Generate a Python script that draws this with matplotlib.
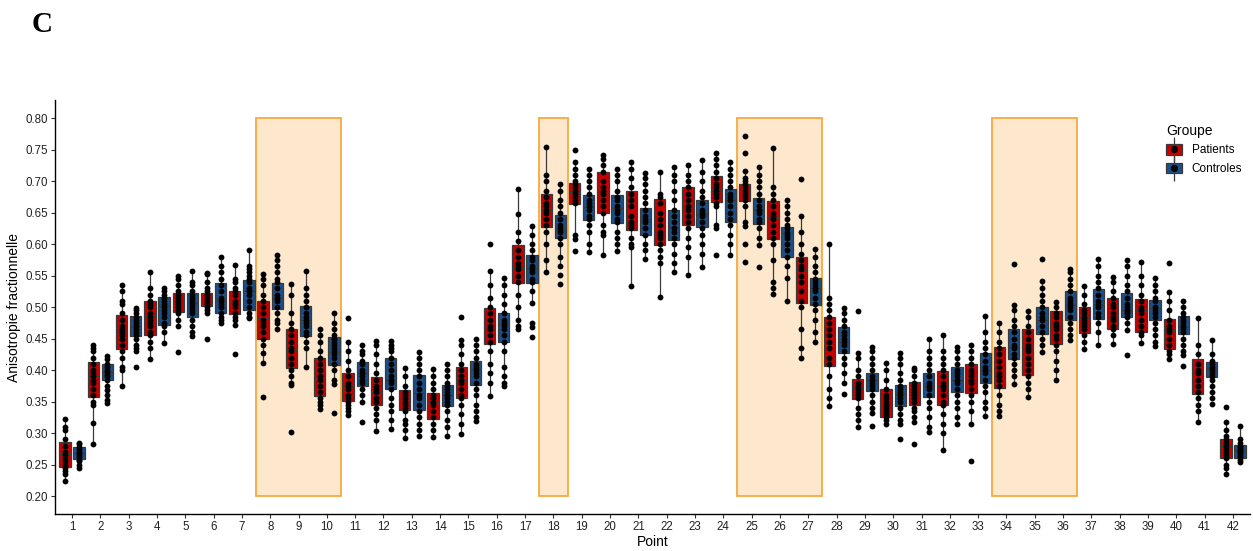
import matplotlib
matplotlib.use("Agg")
import matplotlib.pyplot as plt
from matplotlib.patches import Patch, Rectangle
from matplotlib.lines import Line2D
from matplotlib.legend_handler import HandlerTuple

plt.rcParams['font.family'] = ['Liberation Sans', 'DejaVu Sans']

# --- data --------------------------------------------------------------
points = list(range(1, 43))
groups = ['Patients', 'Controles']

# box quartiles (q1, median, q3) per point
pat_q1 = [0.246, 0.358, 0.433, 0.456, 0.493, 0.501, 0.489, 0.449, 0.403, 0.359,
          0.351, 0.345, 0.336, 0.322, 0.356, 0.441, 0.539, 0.627, 0.664, 0.649,
          0.622, 0.598, 0.630, 0.667, 0.669, 0.608, 0.506, 0.407, 0.354, 0.325,
          0.345, 0.344, 0.363, 0.371, 0.393, 0.441, 0.459, 0.466, 0.461, 0.433,
          0.362, 0.261]
pat_med = [0.266, 0.391, 0.462, 0.486, 0.507, 0.507, 0.507, 0.483, 0.432, 0.389,
           0.374, 0.366, 0.354, 0.350, 0.384, 0.466, 0.562, 0.655, 0.683, 0.682,
           0.634, 0.617, 0.659, 0.686, 0.687, 0.641, 0.559, 0.456, 0.372, 0.342,
           0.363, 0.375, 0.383, 0.392, 0.433, 0.472, 0.482, 0.485, 0.496, 0.463,
           0.398, 0.279]
pat_q3 = [0.286, 0.413, 0.488, 0.510, 0.523, 0.522, 0.526, 0.509, 0.465, 0.419,
          0.396, 0.389, 0.369, 0.364, 0.405, 0.499, 0.599, 0.679, 0.697, 0.714,
          0.685, 0.672, 0.691, 0.708, 0.695, 0.669, 0.580, 0.485, 0.386, 0.370,
          0.381, 0.398, 0.410, 0.436, 0.465, 0.494, 0.500, 0.514, 0.513, 0.481,
          0.417, 0.291]

ctl_q1 = [0.259, 0.384, 0.454, 0.472, 0.484, 0.490, 0.496, 0.497, 0.454, 0.408,
          0.375, 0.370, 0.336, 0.343, 0.376, 0.444, 0.539, 0.609, 0.638, 0.633,
          0.614, 0.606, 0.627, 0.635, 0.632, 0.580, 0.503, 0.427, 0.367, 0.343,
          0.358, 0.366, 0.379, 0.417, 0.458, 0.480, 0.481, 0.485, 0.479, 0.458,
          0.389, 0.260]
ctl_med = [0.269, 0.397, 0.470, 0.501, 0.507, 0.511, 0.525, 0.514, 0.479, 0.429,
           0.396, 0.384, 0.363, 0.360, 0.401, 0.473, 0.562, 0.623, 0.659, 0.657,
           0.636, 0.627, 0.648, 0.670, 0.655, 0.617, 0.531, 0.445, 0.384, 0.362,
           0.375, 0.385, 0.400, 0.437, 0.480, 0.503, 0.503, 0.496, 0.498, 0.469,
           0.403, 0.273]
ctl_q3 = [0.278, 0.409, 0.486, 0.516, 0.522, 0.538, 0.543, 0.539, 0.501, 0.452,
          0.413, 0.419, 0.392, 0.376, 0.414, 0.491, 0.582, 0.646, 0.678, 0.678,
          0.657, 0.654, 0.670, 0.687, 0.674, 0.628, 0.547, 0.468, 0.395, 0.376,
          0.396, 0.405, 0.427, 0.466, 0.500, 0.525, 0.529, 0.522, 0.512, 0.486,
          0.413, 0.281]

# individual subjects per point
pat_pts = [
    [0.322, 0.31, 0.305, 0.29, 0.28, 0.27, 0.265, 0.26, 0.255, 0.25, 0.245, 0.24, 0.235, 0.224],
    [0.44, 0.435, 0.43, 0.42, 0.41, 0.40, 0.395, 0.39, 0.385, 0.38, 0.37, 0.36, 0.35, 0.345, 0.316, 0.283],
    [0.535, 0.525, 0.51, 0.505, 0.49, 0.48, 0.47, 0.465, 0.46, 0.455, 0.45, 0.44, 0.43, 0.42, 0.405, 0.40, 0.375],
    [0.555, 0.53, 0.52, 0.51, 0.505, 0.50, 0.49, 0.485, 0.48, 0.475, 0.47, 0.46, 0.455, 0.445, 0.435, 0.417],
    [0.550, 0.545, 0.535, 0.525, 0.52, 0.515, 0.51, 0.505, 0.50, 0.495, 0.49, 0.48, 0.47, 0.428],
    [0.554, 0.552, 0.54, 0.53, 0.525, 0.52, 0.515, 0.51, 0.505, 0.50, 0.495, 0.49, 0.449],
    [0.567, 0.545, 0.54, 0.53, 0.525, 0.52, 0.51, 0.505, 0.50, 0.49, 0.485, 0.48, 0.472, 0.425],
    [0.552, 0.545, 0.535, 0.52, 0.51, 0.50, 0.49, 0.48, 0.475, 0.47, 0.46, 0.45, 0.44, 0.427, 0.411, 0.357],
    [0.537, 0.52, 0.49, 0.475, 0.465, 0.455, 0.445, 0.435, 0.43, 0.42, 0.41, 0.40, 0.39, 0.38, 0.376, 0.302],
    [0.465, 0.455, 0.445, 0.43, 0.42, 0.41, 0.40, 0.39, 0.385, 0.375, 0.365, 0.355, 0.35, 0.345, 0.338],
    [0.482, 0.445, 0.43, 0.415, 0.40, 0.39, 0.38, 0.375, 0.37, 0.36, 0.355, 0.35, 0.345, 0.34, 0.335, 0.329],
    [0.447, 0.44, 0.425, 0.41, 0.395, 0.385, 0.375, 0.37, 0.365, 0.355, 0.35, 0.34, 0.33, 0.32, 0.304],
    [0.404, 0.39, 0.375, 0.365, 0.36, 0.355, 0.35, 0.345, 0.34, 0.335, 0.32, 0.315, 0.305, 0.292],
    [0.401, 0.39, 0.38, 0.37, 0.36, 0.355, 0.35, 0.345, 0.335, 0.325, 0.315, 0.305, 0.294],
    [0.484, 0.448, 0.44, 0.425, 0.41, 0.40, 0.39, 0.385, 0.38, 0.37, 0.36, 0.355, 0.345, 0.33, 0.315, 0.299],
    [0.601, 0.557, 0.535, 0.515, 0.50, 0.49, 0.48, 0.47, 0.465, 0.455, 0.445, 0.43, 0.41, 0.395, 0.38, 0.359],
    [0.688, 0.648, 0.62, 0.605, 0.59, 0.58, 0.57, 0.565, 0.56, 0.55, 0.54, 0.52, 0.50, 0.48, 0.47, 0.465],
    [0.755, 0.71, 0.70, 0.685, 0.675, 0.665, 0.66, 0.655, 0.65, 0.64, 0.63, 0.62, 0.60, 0.575, 0.556],
    [0.749, 0.73, 0.72, 0.71, 0.70, 0.695, 0.69, 0.685, 0.68, 0.675, 0.67, 0.665, 0.615, 0.608, 0.589],
    [0.742, 0.735, 0.725, 0.715, 0.70, 0.69, 0.685, 0.68, 0.67, 0.66, 0.65, 0.63, 0.62, 0.615, 0.582],
    [0.730, 0.72, 0.705, 0.69, 0.68, 0.67, 0.66, 0.645, 0.635, 0.63, 0.625, 0.61, 0.60, 0.595, 0.534],
    [0.715, 0.68, 0.675, 0.665, 0.65, 0.64, 0.63, 0.62, 0.615, 0.61, 0.60, 0.59, 0.58, 0.57, 0.516],
    [0.726, 0.71, 0.70, 0.69, 0.68, 0.67, 0.66, 0.655, 0.645, 0.635, 0.625, 0.61, 0.595, 0.58, 0.551],
    [0.745, 0.735, 0.725, 0.715, 0.705, 0.695, 0.69, 0.685, 0.68, 0.675, 0.665, 0.66, 0.63, 0.625, 0.583],
    [0.771, 0.744, 0.716, 0.705, 0.70, 0.695, 0.69, 0.685, 0.68, 0.675, 0.67, 0.66, 0.635, 0.629, 0.601, 0.572],
    [0.753, 0.69, 0.68, 0.67, 0.66, 0.65, 0.645, 0.64, 0.63, 0.62, 0.61, 0.60, 0.575, 0.54, 0.53, 0.521],
    [0.704, 0.645, 0.62, 0.60, 0.585, 0.575, 0.565, 0.56, 0.55, 0.54, 0.525, 0.51, 0.50, 0.465, 0.435, 0.42],
    [0.600, 0.515, 0.505, 0.495, 0.485, 0.475, 0.465, 0.455, 0.445, 0.435, 0.42, 0.41, 0.39, 0.37, 0.355, 0.343],
    [0.494, 0.427, 0.42, 0.40, 0.39, 0.38, 0.375, 0.37, 0.365, 0.36, 0.355, 0.34, 0.33, 0.32, 0.309],
    [0.411, 0.40, 0.385, 0.37, 0.36, 0.355, 0.35, 0.345, 0.34, 0.335, 0.33, 0.325, 0.32, 0.314],
    [0.404, 0.40, 0.39, 0.38, 0.375, 0.37, 0.365, 0.36, 0.355, 0.35, 0.34, 0.335, 0.325, 0.318, 0.283],
    [0.456, 0.43, 0.42, 0.41, 0.40, 0.39, 0.38, 0.375, 0.37, 0.36, 0.35, 0.345, 0.33, 0.315, 0.30, 0.273],
    [0.440, 0.43, 0.42, 0.41, 0.40, 0.395, 0.39, 0.385, 0.38, 0.37, 0.36, 0.35, 0.335, 0.315, 0.256],
    [0.474, 0.46, 0.445, 0.435, 0.425, 0.415, 0.405, 0.395, 0.39, 0.385, 0.375, 0.36, 0.345, 0.335, 0.327],
    [0.494, 0.485, 0.47, 0.46, 0.45, 0.44, 0.435, 0.43, 0.42, 0.41, 0.40, 0.39, 0.38, 0.37, 0.357],
    [0.508, 0.50, 0.49, 0.485, 0.475, 0.47, 0.465, 0.455, 0.45, 0.44, 0.43, 0.415, 0.40, 0.384],
    [0.533, 0.52, 0.505, 0.495, 0.49, 0.485, 0.48, 0.475, 0.47, 0.465, 0.455, 0.445, 0.433],
    [0.548, 0.54, 0.525, 0.515, 0.505, 0.50, 0.49, 0.485, 0.48, 0.47, 0.465, 0.455, 0.442],
    [0.571, 0.55, 0.535, 0.52, 0.51, 0.50, 0.495, 0.49, 0.48, 0.47, 0.46, 0.455, 0.443],
    [0.570, 0.524, 0.51, 0.495, 0.48, 0.47, 0.465, 0.46, 0.45, 0.44, 0.43, 0.425, 0.417],
    [0.482, 0.44, 0.425, 0.41, 0.40, 0.395, 0.385, 0.375, 0.365, 0.355, 0.345, 0.335, 0.318],
    [0.342, 0.318, 0.305, 0.295, 0.29, 0.285, 0.28, 0.275, 0.27, 0.265, 0.26, 0.25, 0.245, 0.235],
]

ctl_pts = [
    [0.285, 0.282, 0.278, 0.275, 0.27, 0.268, 0.265, 0.262, 0.258, 0.255, 0.25, 0.245],
    [0.423, 0.418, 0.41, 0.405, 0.40, 0.397, 0.393, 0.39, 0.385, 0.375, 0.368, 0.36, 0.352, 0.348],
    [0.499, 0.495, 0.49, 0.485, 0.48, 0.475, 0.47, 0.465, 0.46, 0.455, 0.45, 0.44, 0.435, 0.43, 0.405],
    [0.531, 0.525, 0.52, 0.515, 0.51, 0.505, 0.50, 0.495, 0.49, 0.485, 0.475, 0.47, 0.46, 0.443],
    [0.557, 0.54, 0.535, 0.525, 0.52, 0.515, 0.51, 0.505, 0.50, 0.495, 0.49, 0.48, 0.47, 0.46, 0.454],
    [0.58, 0.565, 0.555, 0.545, 0.535, 0.525, 0.515, 0.51, 0.505, 0.50, 0.49, 0.485, 0.48, 0.475],
    [0.59, 0.565, 0.56, 0.555, 0.55, 0.545, 0.54, 0.53, 0.525, 0.52, 0.51, 0.50, 0.49, 0.485, 0.482],
    [0.582, 0.575, 0.565, 0.555, 0.545, 0.54, 0.53, 0.52, 0.515, 0.51, 0.50, 0.49, 0.48, 0.475, 0.466],
    [0.557, 0.53, 0.52, 0.51, 0.50, 0.49, 0.485, 0.48, 0.475, 0.47, 0.46, 0.455, 0.445, 0.435, 0.405],
    [0.490, 0.475, 0.465, 0.455, 0.45, 0.445, 0.44, 0.435, 0.43, 0.425, 0.42, 0.41, 0.40, 0.385, 0.378, 0.332],
    [0.440, 0.43, 0.425, 0.415, 0.41, 0.40, 0.395, 0.39, 0.385, 0.38, 0.37, 0.36, 0.35, 0.317],
    [0.447, 0.44, 0.435, 0.43, 0.42, 0.41, 0.40, 0.39, 0.385, 0.38, 0.37, 0.355, 0.345, 0.335, 0.32, 0.306],
    [0.429, 0.42, 0.41, 0.40, 0.39, 0.38, 0.37, 0.36, 0.355, 0.345, 0.335, 0.325, 0.315, 0.305, 0.296],
    [0.410, 0.40, 0.39, 0.38, 0.375, 0.37, 0.365, 0.36, 0.355, 0.35, 0.345, 0.335, 0.32, 0.31, 0.295],
    [0.450, 0.44, 0.43, 0.42, 0.41, 0.405, 0.40, 0.395, 0.39, 0.38, 0.37, 0.36, 0.345, 0.335, 0.325, 0.319],
    [0.546, 0.535, 0.52, 0.505, 0.49, 0.48, 0.475, 0.47, 0.465, 0.455, 0.445, 0.43, 0.405, 0.39, 0.38, 0.374],
    [0.629, 0.615, 0.60, 0.59, 0.58, 0.575, 0.565, 0.56, 0.555, 0.545, 0.54, 0.525, 0.506, 0.474, 0.468, 0.453],
    [0.696, 0.685, 0.67, 0.66, 0.65, 0.64, 0.63, 0.625, 0.62, 0.61, 0.60, 0.58, 0.565, 0.551, 0.536],
    [0.719, 0.71, 0.70, 0.69, 0.68, 0.67, 0.665, 0.66, 0.655, 0.645, 0.64, 0.63, 0.62, 0.60, 0.587],
    [0.719, 0.71, 0.70, 0.685, 0.675, 0.67, 0.66, 0.655, 0.65, 0.64, 0.635, 0.62, 0.61, 0.60, 0.589],
    [0.713, 0.705, 0.695, 0.685, 0.675, 0.665, 0.655, 0.645, 0.64, 0.635, 0.625, 0.615, 0.60, 0.59, 0.576],
    [0.723, 0.71, 0.70, 0.685, 0.67, 0.655, 0.645, 0.635, 0.625, 0.62, 0.61, 0.60, 0.585, 0.57, 0.555],
    [0.733, 0.715, 0.70, 0.685, 0.675, 0.665, 0.655, 0.65, 0.645, 0.635, 0.625, 0.615, 0.60, 0.585, 0.564],
    [0.730, 0.72, 0.71, 0.70, 0.69, 0.68, 0.675, 0.67, 0.66, 0.65, 0.64, 0.63, 0.615, 0.60, 0.583],
    [0.723, 0.71, 0.70, 0.69, 0.68, 0.67, 0.66, 0.655, 0.65, 0.64, 0.635, 0.625, 0.61, 0.599, 0.564],
    [0.670, 0.66, 0.65, 0.64, 0.63, 0.625, 0.62, 0.615, 0.61, 0.60, 0.59, 0.58, 0.565, 0.546, 0.510],
    [0.593, 0.58, 0.565, 0.555, 0.545, 0.54, 0.535, 0.53, 0.525, 0.515, 0.505, 0.495, 0.48, 0.46, 0.445],
    [0.498, 0.49, 0.48, 0.47, 0.46, 0.455, 0.45, 0.445, 0.44, 0.43, 0.42, 0.41, 0.395, 0.38, 0.362],
    [0.436, 0.43, 0.42, 0.41, 0.40, 0.39, 0.385, 0.38, 0.375, 0.37, 0.36, 0.35, 0.34, 0.332, 0.312],
    [0.427, 0.42, 0.41, 0.395, 0.385, 0.375, 0.37, 0.365, 0.36, 0.355, 0.35, 0.34, 0.33, 0.32, 0.315, 0.291],
    [0.449, 0.43, 0.42, 0.41, 0.40, 0.39, 0.38, 0.375, 0.37, 0.36, 0.35, 0.34, 0.325, 0.31, 0.301],
    [0.436, 0.43, 0.42, 0.41, 0.40, 0.395, 0.39, 0.385, 0.38, 0.37, 0.36, 0.35, 0.34, 0.325, 0.314],
    [0.486, 0.46, 0.445, 0.435, 0.425, 0.415, 0.405, 0.40, 0.395, 0.385, 0.375, 0.365, 0.35, 0.34, 0.327],
    [0.569, 0.503, 0.495, 0.48, 0.47, 0.46, 0.45, 0.44, 0.435, 0.425, 0.42, 0.41, 0.40, 0.39, 0.378],
    [0.577, 0.541, 0.53, 0.52, 0.51, 0.50, 0.49, 0.485, 0.48, 0.47, 0.46, 0.45, 0.44, 0.428],
    [0.561, 0.555, 0.545, 0.535, 0.525, 0.515, 0.51, 0.505, 0.50, 0.495, 0.485, 0.475, 0.465, 0.455, 0.448],
    [0.576, 0.565, 0.55, 0.54, 0.53, 0.52, 0.51, 0.505, 0.50, 0.49, 0.485, 0.475, 0.46, 0.44],
    [0.575, 0.565, 0.55, 0.535, 0.525, 0.515, 0.505, 0.50, 0.495, 0.49, 0.485, 0.475, 0.463, 0.424],
    [0.546, 0.535, 0.525, 0.515, 0.51, 0.50, 0.495, 0.49, 0.485, 0.475, 0.465, 0.455, 0.445, 0.438],
    [0.509, 0.50, 0.49, 0.485, 0.48, 0.475, 0.47, 0.465, 0.46, 0.45, 0.44, 0.43, 0.424, 0.407],
    [0.448, 0.425, 0.415, 0.41, 0.405, 0.40, 0.395, 0.39, 0.385, 0.375, 0.365, 0.355, 0.346],
    [0.311, 0.29, 0.285, 0.28, 0.278, 0.275, 0.272, 0.27, 0.268, 0.265, 0.262, 0.258, 0.254],
]

# highlighted ranges of points (first, last)
zones = [(8, 10), (18, 18), (25, 27), (34, 36)]
zone_ymin, zone_ymax = 0.20, 0.80

colors = {'Patients': '#C70000', 'Controles': '#1B4F8A'}
edge = '#3a3a3a'


def box_stats(q1, med, q3, pts):
    iqr = q3 - q1
    inside_hi = [p for p in pts if q3 <= p <= q3 + 1.5 * iqr]
    inside_lo = [p for p in pts if q1 - 1.5 * iqr <= p <= q1]
    return dict(q1=q1, med=med, q3=q3,
                whishi=max(inside_hi) if inside_hi else q3,
                whislo=min(inside_lo) if inside_lo else q1)


fig = plt.figure(figsize=(12.53, 5.51), dpi=100)
ax = fig.add_axes([0.0439, 0.0666, 0.9537, 0.752])

for a, b in zones:
    ax.add_patch(Rectangle((a - 0.5, zone_ymin), b - a + 1, zone_ymax - zone_ymin,
                           facecolor='#FEE8CD', edgecolor='#F8A83F', linewidth=1.3, zorder=0))

offset, width = 0.25, 0.4
series = [('Patients', -offset, pat_q1, pat_med, pat_q3, pat_pts),
          ('Controles', offset, ctl_q1, ctl_med, ctl_q3, ctl_pts)]

for name, dx, q1s, meds, q3s, pts in series:
    stats = [box_stats(q1s[i], meds[i], q3s[i], pts[i]) for i in range(len(points))]
    pos = [p + dx for p in points]
    ax.bxp(stats, positions=pos, widths=width, patch_artist=True,
           showfliers=False, showcaps=False,
           boxprops=dict(facecolor=colors[name], edgecolor=edge, linewidth=0.9),
           medianprops=dict(color=edge, linewidth=1.0),
           whiskerprops=dict(color=edge, linewidth=0.9),
           manage_ticks=False, zorder=2)
    for x, vals in zip(pos, pts):
        ax.plot([x] * len(vals), vals, 'o', color='black', markersize=4.2,
                markeredgewidth=0, zorder=3)

ax.set_xlim(0.4, 42.6)
ax.set_ylim(0.171, 0.829)
ax.set_xticks(points)
ax.set_xticklabels([str(p) for p in points])
yt = [0.20 + 0.05 * i for i in range(13)]
ax.set_yticks(yt)
ax.set_yticklabels([f'{v:.2f}' for v in yt])
ax.tick_params(axis='both', labelsize=8.3, colors='#333333', length=3, width=0.8,
               labelcolor='#222222', pad=2)

for s in ['top', 'right']:
    ax.spines[s].set_visible(False)
for s in ['left', 'bottom']:
    ax.spines[s].set_color('black')
    ax.spines[s].set_linewidth(1.0)

ax.set_xlabel('Point', fontsize=10, labelpad=1)
ax.set_ylabel('Anisotropie fractionnelle', fontsize=10, labelpad=3)

handles = []
for name in groups:
    whisk = Line2D([], [], marker='|', markersize=18, markeredgewidth=0.9,
                   color=edge, linestyle='None')
    box = Patch(facecolor=colors[name], edgecolor=edge, linewidth=0.9)
    dot = Line2D([], [], marker='o', markersize=4.2, color='black', linestyle='None')
    handles.append((whisk, box, dot))

leg = fig.legend(handles, groups, handler_map={tuple: HandlerTuple(ndivide=1, pad=0)},
                 loc='upper left', bbox_to_anchor=(0.922, 0.795), frameon=False,
                 title='Groupe', fontsize=8.5, title_fontsize=10,
                 handlelength=1.4, handleheight=1.0, handletextpad=0.8,
                 labelspacing=0.55, alignment='left')

fig.text(0.025, 0.955, 'C', fontsize=21, fontweight='bold',
         family='Liberation Serif', va='center', ha='left')

fig.savefig('out.png', dpi=100)
